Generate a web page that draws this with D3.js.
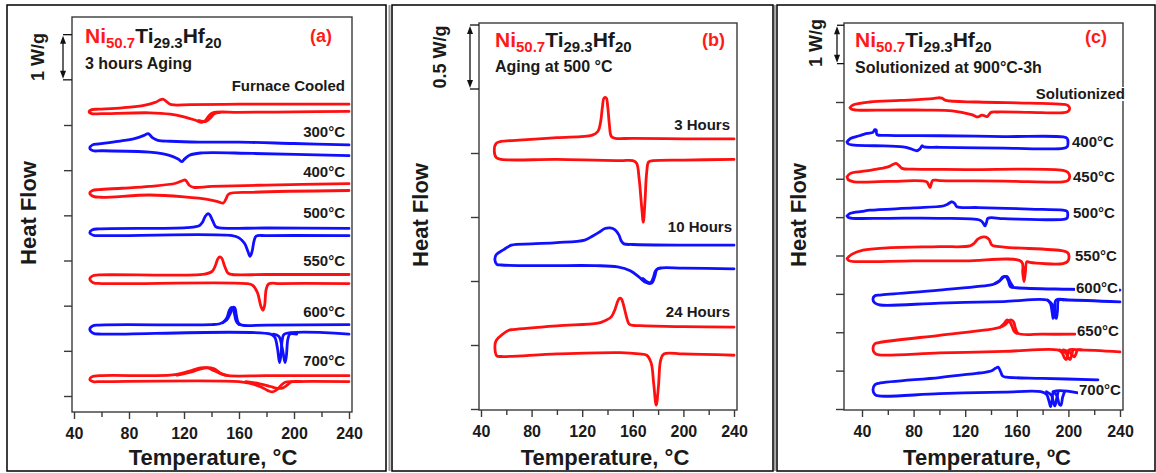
<!DOCTYPE html>
<html><head><meta charset="utf-8">
<script src="https://cdn.jsdelivr.net/npm/d3@7"></script>
<style>
body{margin:0;background:#fff}
svg{display:block}
text{font-family:"Liberation Sans",Arial,sans-serif;font-weight:bold}
</style>
</head><body>
<svg id="chart" width="1156" height="473"></svg>
<script>
// ---------- Axis ticks ----------
const xMajorTicks = [40, 80, 120, 160, 200, 240];
const xMinorTicks = [60, 100, 140, 180, 220];
const yTicksA = [0, 1, 2, 3, 4, 5, 6];
const yTicksB = [0, 0.5, 1, 1.5, 2];
const yTicksC = [0, 1, 2, 3, 4, 5, 6, 7, 8];

// ---------- Panel (a): 3 hours aging (T °C, heat flow W/g + offset) ----------
const aFurnaceCooled = [[240,6.46],[200,6.46],[160,6.46],[125,6.45],[111,6.45],[108,6.50],[105,6.57],[103,6.56],[99,6.50],[90,6.43],[75,6.38],[58,6.35],
 [53,6.34],[51,6.29],[53,6.25],
 [60,6.25],[95,6.27],[110,6.24],[120,6.18],[128,6.11],[133,6.06],[135.5,6.10],[138,6.20],[141,6.27],[160,6.28],[200,6.29],[240,6.30]];
const aFurnaceCooled2 = [[131,6.10],[136,6.08],[139,6.15],[142,6.25],[146,6.28]];
const a300 = [[240,5.56],[200,5.59],[160,5.62],[131,5.62],[110,5.64],[101,5.66],[97,5.72],[94,5.81],[91,5.77],[84,5.70],[72,5.64],[58,5.58],
 [53.5,5.56],[51.5,5.49],[54,5.43],
 [60,5.43],[95,5.40],[105,5.36],[112,5.30],[116,5.24],[118.5,5.19],[120.5,5.25],[124,5.33],[132,5.38],[170,5.37],[240,5.32]];
const a400 = [[240,4.70],[180,4.67],[140,4.64],[127,4.62],[124,4.66],[121,4.78],[119,4.77],[114,4.71],[95,4.64],[75,4.60],[58,4.57],
 [53.5,4.55],[51.5,4.49],[54,4.42],
 [60,4.40],[95,4.45],[120,4.41],[138,4.35],[145,4.30],[148.5,4.27],[150.5,4.36],[152.5,4.47],[170,4.51],[240,4.55]];
const a500 = [[240,3.71],[180,3.72],[146,3.72],[143,3.75],[141,3.87],[139,4.00],[137.5,4.04],[135.5,3.98],[133.5,3.85],[131,3.77],[122,3.73],[58,3.70],
 [53.5,3.68],[51.5,3.62],[54,3.56],
 [60,3.55],[155,3.55],[160,3.50],[164,3.38],[166.5,3.20],[168,3.09],[169.5,3.20],[171,3.44],[172.5,3.54],[180,3.55],[240,3.55]];
const a550 = [[240,2.69],[180,2.69],[155,2.69],[152,2.72],[149.5,2.88],[147.5,3.05],[146,3.08],[144.5,3.03],[143,2.90],[140.5,2.76],[135,2.70],[58,2.68],
 [53.5,2.66],[51.5,2.59],[54,2.51],
 [60,2.49],[165,2.49],[170,2.45],[173.5,2.28],[176,1.98],[177.5,1.90],[178.7,2.02],[179.7,2.35],[181.5,2.48],[190,2.49],[240,2.49]];
const a600 = [[240,1.58],[180,1.57],[162,1.57],[159.5,1.62],[158,1.80],[157,1.95],[155.5,1.96],[154,1.85],[151,1.68],[146,1.60],[140,1.58],[58,1.57],
 [53.5,1.55],[51.5,1.48],[54,1.39],
 [60,1.37],[183,1.37],[186,1.30],[188,1.05],[189.5,0.74],[190.5,0.90],[191.5,1.25],[193,1.37],[240,1.37]];
const a600b = [[185,1.37],[189,1.32],[191.5,1.05],[193.5,0.74],[194.5,0.90],[195.5,1.25],[197,1.37],[202,1.37]];
const a600c = [[148,1.62],[151,1.72],[153,1.90],[154.5,1.96],[156,1.90],[158,1.66],[160,1.58]];
const a700 = [[240,0.45],[180,0.45],[152,0.45],[147,0.49],[142,0.56],[137,0.62],[132,0.62],[126,0.57],[118,0.50],[110,0.46],[58,0.45],
 [53.5,0.43],[51.5,0.37],[54,0.32],
 [60,0.32],[160,0.32],[168,0.28],[176,0.20],[181,0.12],[184.5,0.09],[188,0.15],[191,0.25],[194,0.31],[200,0.32],[240,0.32]];
const a700b = [[115,0.46],[124,0.52],[131,0.59],[137,0.63],[142,0.60],[147,0.50],[152,0.45]];
const a700c = [[165,0.32],[175,0.27],[183,0.21],[188,0.17],[192,0.18],[195,0.24],[198,0.31],[205,0.32]];

// ---------- Panel (b): aging at 500 °C ----------
const b3Hours = [[240,2.11],[200,2.11],[160,2.115],[146,2.115],[143,2.13],[141.5,2.22],[140.2,2.36],[139,2.43],[137.3,2.43],[136,2.36],[134.5,2.24],[132.5,2.17],[128,2.14],[100,2.12],[70,2.10],[56,2.09],
 [52,2.075],[50.5,2.02],[52,1.965],
 [56,1.95],[100,1.95],[150,1.94],[160,1.94],[163,1.92],[165,1.80],[167,1.58],[168.3,1.46],[169.5,1.60],[171,1.85],[172.5,1.93],[176,1.94],[200,1.945],[240,1.95]];
const b10Hours = [[240,1.28],[200,1.28],[160,1.285],[153,1.29],[151,1.31],[149,1.36],[146,1.40],[142,1.415],[138,1.41],[134,1.385],[128,1.35],[122,1.32],[100,1.30],[80,1.29],[64,1.28],
 [58,1.245],[52,1.205],[51,1.165],[52.5,1.13],[56,1.125],
 [90,1.12],[130,1.12],[148,1.11],[158,1.08],[165,1.03],[170,0.99],[173.6,0.98],[176,1.02],[178,1.08],[181,1.10],[200,1.10],[240,1.095]];
const b10Hours2 = [[168,1.02],[172,0.99],[175,0.985],[177.5,1.04],[179,1.09],[182,1.10]];
const b24Hours = [[240,0.64],[200,0.643],[170,0.65],[159,0.655],[157,0.665],[155,0.72],[153,0.80],[151,0.86],[149.5,0.865],[148,0.84],[146,0.78],[143,0.72],[138,0.69],[132.5,0.67],[100,0.65],[65,0.62],
 [62,0.615],[52,0.535],[51,0.48],[52.5,0.415],[56,0.41],
 [100,0.43],[150,0.44],[165,0.43],[171,0.42],[174.5,0.36],[176.5,0.20],[178.5,0.03],[180.3,0.18],[182,0.38],[184.5,0.43],[200,0.43],[240,0.42]];

// ---------- Panel (c): solutionized at 900 °C-3h, then aged ----------
const cSolutionized = [[30.7,7.85],[33,7.92],[46,8.0],[70,8.04],[95,8.09],[99,8.11],[102,8.10],[105,8.04],[130,8.0],[170,7.97],[195.8,7.94],
 [199.5,7.91],[201,7.83],[199.5,7.75],[195.8,7.72],
 [170,7.73],[145,7.74],[140,7.73],[137,7.62],[133,7.66],[130,7.61],[125,7.67],[110,7.77],[90,7.79],[60,7.79],[36,7.79],[32,7.81],[30.7,7.85]];
const c400 = [[28.4,6.96],[31,7.05],[38,7.12],[44,7.18],[48.5,7.21],[50,7.28],[51,7.27],[51.6,7.15],[60,7.13],[100,7.12],[150,7.10],[195.8,7.09],
 [199,7.05],[199.7,6.94],[199,6.83],[195.8,6.79],
 [150,6.80],[100,6.82],[88,6.83],[86.5,6.86],[85,6.78],[82.6,6.73],[78,6.78],[71.8,6.83],[50,6.86],[32.2,6.88],[29,6.92],[28.4,6.96]];
const c450 = [[28.4,6.05],[31,6.14],[40,6.19],[46.2,6.22],[55,6.27],[60.2,6.31],[64,6.37],[66.4,6.40],[68.5,6.35],[71,6.27],[80,6.25],[120,6.24],[195.8,6.22],
 [199.5,6.17],[201,6.05],[199.5,5.95],[195.8,5.92],
 [150,5.94],[100,5.95],[95,5.96],[93.6,5.86],[92.7,5.77],[91.5,5.85],[90,5.92],[60,5.93],[33.9,5.92],[29.5,5.97],[28.4,6.05]];
const c500 = [[28.4,5.03],[31,5.10],[40,5.15],[46.2,5.18],[80,5.24],[102.8,5.29],[106,5.33],[109.8,5.40],[112,5.35],[113.6,5.27],[130,5.25],[170,5.21],[195.8,5.18],
 [199,5.15],[199.5,5.05],[198.9,4.97],[195.8,4.94],
 [150,4.96],[137.7,4.97],[136.5,4.86],[135.3,4.77],[133.8,4.85],[131.5,4.92],[100,4.97],[60,4.97],[32.2,4.97],[29.5,4.99],[28.4,5.03]];
const c550 = [[28.4,3.92],[32,4.03],[40.8,4.14],[60,4.20],[100,4.23],[123.7,4.25],[127,4.32],[129.5,4.42],[133,4.48],[136,4.48],[138.5,4.42],[140.8,4.27],[150,4.22],[195.8,4.12],
 [199.5,4.07],[200.5,3.97],[199.5,3.85],[195.8,3.79],
 [170,3.82],[167.8,3.84],[166.6,3.55],[165.6,3.32],[164.6,3.55],[163.6,3.84],[120,3.86],[80,3.86],[36,3.84],[30,3.86],[28.4,3.92]];
const c600 = [[240,3.10],[200,3.12],[160,3.16],[155,3.19],[153.5,3.33],[151.5,3.45],[149,3.44],[146.5,3.33],[142,3.25],[139.2,3.23],[100,3.10],[54,2.97],
 [50,2.95],[48.5,2.87],[50,2.76],[54,2.71],
 [100,2.76],[150,2.80],[183.4,2.84],[186,2.75],[187.5,2.50],[188.2,2.36],[189.3,2.55],[190.5,2.84],[200,2.84],[240,2.79]];
const c600b = [[184,2.84],[188,2.70],[189.7,2.40],[190.6,2.36],[191.5,2.55],[192.5,2.84],[196,2.84]];
const c600c = [[143,3.27],[147,3.35],[150,3.44],[152.5,3.45],[155,3.30],[157,3.19]];
const c650 = [[205,1.95],[180,1.95],[161,1.97],[159,2.10],[157.5,2.27],[155.5,2.32],[153.5,2.28],[151,2.20],[147,2.13],[136.2,2.06],[100,1.92],[53,1.73],
 [50,1.70],[48.5,1.58],[50,1.45],[53,1.41],
 [100,1.46],[150,1.50],[191.5,1.54],[195,1.47],[197,1.33],[198.3,1.29],[199.5,1.40],[200.5,1.54],[209,1.54],[240,1.49]];
const c650b = [[193,1.54],[198,1.46],[200,1.33],[201.3,1.29],[202.5,1.40],[203.5,1.54]];
const c650c = [[196,1.54],[201,1.48],[203,1.40],[204.6,1.36],[206,1.45],[207,1.54],[210,1.54]];
const c650d = [[147,2.13],[150,2.22],[152.5,2.32],[155,2.25],[158,2.02],[160,1.97]];
const c700 = [[222.9,0.76],[180,0.80],[152,0.83],[149,0.86],[147.5,0.97],[145.5,1.09],[143.5,1.06],[140,0.99],[134,0.95],[128.6,0.93],[100,0.82],[53,0.67],
 [50,0.63],[48.5,0.50],[50,0.38],[53,0.34],
 [100,0.40],[150,0.44],[178.6,0.45],[183,0.38],[185,0.20],[186.2,0.06],[187.3,0.22],[188.8,0.45],[207.4,0.42]];
const c700b = [[183,0.45],[187,0.35],[188.5,0.15],[189.5,0.08],[190.8,0.25],[192,0.45]];
const c700c = [[188,0.45],[191,0.35],[193,0.12],[194.2,0.10],[195.5,0.30],[197,0.45]];

// ---------- Labels ----------
const aLabels = ["Furnace Cooled","300°C","400°C","500°C","550°C","600°C","700°C"];
const bLabels = ["3 Hours","10 Hours","24 Hours"];
const cLabels = ["Solutionized","400°C","450°C","500°C","550°C","600°C","650°C","700°C"];

const RED = "#ff1010", BLUE = "#1010ff";

// ---------- Layout (positions/styles) ----------
const panels = [
 { frame:[7,5,386,471], plot:[72,17,352,412], xr:[74,349], yDom:[0,6], yr:[396,125], yTicks:yTicksA,
   bar:[7,8], barX:63, barText:"1 W/g", barTextX:44, barTextY:57,
   titleX:85, titleY:43, subX:85, subY:69, sub:"3 hours Aging", tag:"(a)", tagX:310, tagY:42,
   hfX:36, hfY:213, tX:213, xTitle:"Temperature, °C",
   curves:[
    {d:aFurnaceCooled,c:RED},{d:aFurnaceCooled2,c:RED},{d:a300,c:BLUE},{d:a400,c:RED},{d:a500,c:BLUE},
    {d:a550,c:RED},{d:a600,c:BLUE},{d:a600b,c:BLUE},{d:a600c,c:BLUE},{d:a700,c:RED},{d:a700b,c:RED},{d:a700c,c:RED}],
   labels: aLabels.map((t,i)=>({t, x:345, y:[91,137,177,218,266,317,366][i], anchor:"end"})) },
 { frame:[392,5,773,471], plot:[479,23,737,410], xr:[481,734], yDom:[0,2], yr:[409,153], yTicks:yTicksB,
   bar:[2.5,3.0], barX:470, barText:"0.5 W/g", barTextX:446, barTextY:57,
   titleX:495, titleY:47, subX:495, subY:72, sub:"Aging at 500 °C", tag:"(b)", tagX:702, tagY:46,
   hfX:428, hfY:215, tX:605, xTitle:"Temperature, °C",
   curves:[{d:b3Hours,c:RED},{d:b10Hours,c:BLUE},{d:b10Hours2,c:BLUE},{d:b24Hours,c:RED}],
   labels: bLabels.map((t,i)=>({t, x:[730,732,730][i], y:[130,232,317][i], anchor:"end"})) },
 { frame:[777,5,1155,471], plot:[844,23,1123,410], xr:[862,1120], yDom:[0,8], yr:[409,102], yTicks:yTicksC,
   bar:[9,10], barX:837, barText:"1 W/g", barTextX:822, barTextY:43,
   titleX:855, titleY:47, subX:855, subY:73, sub:"Solutionized at 900°C-3h", tag:"(c)", tagX:1085, tagY:43,
   hfX:806, hfY:215, tX:987, xTitle:"Temperature, ºC",
   curves:[{d:cSolutionized,c:RED},{d:c400,c:BLUE},{d:c450,c:RED},{d:c500,c:BLUE},{d:c550,c:RED},
    {d:c600,c:BLUE},{d:c600b,c:BLUE},{d:c600c,c:BLUE},{d:c650,c:RED},{d:c650b,c:RED},{d:c650c,c:RED},{d:c650d,c:RED},
    {d:c700,c:BLUE},{d:c700b,c:BLUE},{d:c700c,c:BLUE}],
   labels: cLabels.map((t,i)=>({t, x:[1125,1072,1073,1073,1075,1076,1077,1079][i], y:[99,147,182,218,261,293,336,395][i], anchor:i===0?"end":"start", bg:true})) }
];

const svg = d3.select("#chart");
const TXT = "#1a1a1a";

// separators between panels
[389.5, 774.8].forEach(x => svg.append("line").attr("x1",x).attr("x2",x).attr("y1",5).attr("y2",471)
  .attr("stroke","#9a9a9a").attr("stroke-width",2));

panels.forEach(p => {
  const g = svg.append("g");
  const [fx0,fy0,fx1,fy1] = p.frame;
  g.append("rect").attr("x",fx0).attr("y",fy0).attr("width",fx1-fx0).attr("height",fy1-fy0)
    .attr("fill","none").attr("stroke","#000").attr("stroke-width",1.5);

  const x = d3.scaleLinear().domain([40,240]).range(p.xr);
  const y = d3.scaleLinear().domain(p.yDom).range(p.yr);
  const [l,t,r,b] = p.plot;

  // plot frame
  g.append("rect").attr("x",l).attr("y",t).attr("width",r-l).attr("height",b-t)
    .attr("fill","none").attr("stroke","#3a3a3a").attr("stroke-width",1.4);

  // y ticks (left, outward)
  const yAxis = d3.axisLeft(y).tickValues(p.yTicks).tickSize(8).tickFormat("");
  const ya = g.append("g").attr("transform",`translate(${l},0)`).call(yAxis);
  ya.select(".domain").remove();
  ya.selectAll("line").attr("stroke","#3a3a3a").attr("stroke-width",1.4);

  // x axis major + minor
  const xa = g.append("g").attr("transform",`translate(0,${b})`)
    .call(d3.axisBottom(x).tickValues(xMajorTicks).tickSize(7).tickPadding(9).tickFormat(d3.format("d")));
  xa.select(".domain").remove();
  xa.selectAll("line").attr("stroke","#3a3a3a").attr("stroke-width",1.4);
  xa.selectAll("text").attr("fill",TXT).style("font-size","16px").style("font-family","'Liberation Sans',Arial,sans-serif").style("font-weight","bold");
  const xm = g.append("g").attr("transform",`translate(0,${b})`)
    .call(d3.axisBottom(x).tickValues(xMinorTicks).tickSize(5).tickFormat(""));
  xm.select(".domain").remove();
  xm.selectAll("line").attr("stroke","#3a3a3a").attr("stroke-width",1.4);

  // curves
  const line = d3.line().x(d=>x(d[0])).y(d=>y(d[1])).curve(d3.curveCatmullRom.alpha(0.5));
  p.curves.forEach(cv => {
    g.append("path").attr("d",line(cv.d)).attr("fill","none").attr("stroke",cv.c)
      .attr("stroke-width",2.8).attr("stroke-linejoin","round").attr("stroke-linecap","round");
  });

  // curve labels
  p.labels.forEach(lb => {
    const tx = g.append("text").attr("x",lb.x).attr("y",lb.y).attr("text-anchor",lb.anchor)
      .attr("fill",TXT).style("font-size","15px").text(lb.t);
    if (lb.bg) {
      const bb = tx.node().getBBox();
      g.insert("rect", () => tx.node()).attr("x",bb.x-1).attr("y",bb.y+2).attr("width",bb.width+2).attr("height",bb.height-3).attr("fill","#fff");
    }
  });

  // scale bar
  const yb0 = y(p.bar[0]), yb1 = y(p.bar[1]);
  const sb = g.append("g").attr("stroke","#111").attr("stroke-width",1.3);
  sb.append("line").attr("x1",p.barX).attr("x2",l).attr("y1",yb1).attr("y2",yb1);
  sb.append("line").attr("x1",p.barX).attr("x2",l).attr("y1",yb0).attr("y2",yb0);
  sb.append("line").attr("x1",p.barX).attr("x2",p.barX).attr("y1",yb1+4).attr("y2",yb0-4);
  g.append("path").attr("d",`M${p.barX},${yb1+1}L${p.barX-3},${yb1+9}L${p.barX+3},${yb1+9}Z`).attr("fill","#111");
  g.append("path").attr("d",`M${p.barX},${yb0-1}L${p.barX-3},${yb0-9}L${p.barX+3},${yb0-9}Z`).attr("fill","#111");
  g.append("text").attr("transform",`translate(${p.barTextX},${p.barTextY}) rotate(-90)`)
    .attr("text-anchor","middle").attr("fill",TXT).style("font-size","18px").text(p.barText);

  // title with subscripts
  const tt = g.append("text").attr("x",p.titleX).attr("y",p.titleY).attr("fill",TXT).style("font-size","21px");
  tt.append("tspan").attr("fill","#ff1a1a").text("Ni");
  tt.append("tspan").attr("fill","#ff1a1a").attr("dy",5).style("font-size","15px").text("50.7");
  tt.append("tspan").attr("dy",-5).text("Ti");
  tt.append("tspan").attr("dy",5).style("font-size","15px").text("29.3");
  tt.append("tspan").attr("dy",-5).text("Hf");
  tt.append("tspan").attr("dy",5).style("font-size","15px").text("20");
  g.append("text").attr("x",p.subX).attr("y",p.subY).attr("fill",TXT).style("font-size","16px").text(p.sub);
  g.append("text").attr("x",p.tagX).attr("y",p.tagY).attr("fill","#ff1a1a").style("font-size","18px").text(p.tag);

  // axis titles
  g.append("text").attr("transform",`translate(${p.hfX},${p.hfY}) rotate(-90)`).attr("text-anchor","middle")
    .attr("fill",TXT).style("font-size","22px").text("Heat Flow");
  g.append("text").attr("x",p.tX).attr("y",465).attr("text-anchor","middle")
    .attr("fill",TXT).style("font-size","22px").text(p.xTitle);
});
</script>
</body></html>
